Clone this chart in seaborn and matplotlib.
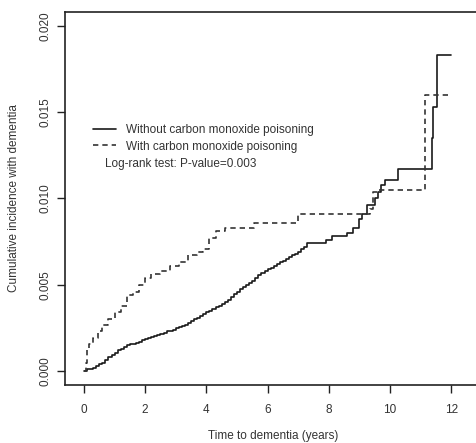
import pandas as pd
import matplotlib
matplotlib.use("Agg")
import matplotlib.pyplot as plt
import seaborn as sns

# Cumulative incidence curves
t_sin = [0, 0.1, 0.2, 0.3, 0.4, 0.5, 0.6, 0.7, 0.8, 0.9, 1.0, 1.1, 1.2, 1.3,
         1.4, 1.5, 1.6, 1.7, 1.8, 1.9, 2.0, 2.1, 2.2, 2.3, 2.4, 2.5, 2.6, 2.7,
         2.8, 2.9, 3.0, 3.1, 3.2, 3.3, 3.4, 3.5, 3.6, 3.7, 3.8, 3.9, 4.0, 4.1,
         4.2, 4.3, 4.4, 4.5, 4.6, 4.7, 4.8, 4.9, 5.0, 5.1, 5.2, 5.3, 5.4, 5.5,
         5.6, 5.7, 5.8, 5.9, 6.0, 6.1, 6.2, 6.3, 6.4, 6.5, 6.6, 6.7, 6.8, 6.9,
         7.0, 7.1, 7.2, 7.3, 7.9, 8.1, 8.6, 8.8, 9.0, 9.1, 9.25, 9.5, 9.6,
         9.7, 9.85, 10.25, 11.37, 11.4, 11.54, 12.0]
ci_sin = [0, 0.0001, 0.00015, 0.0002, 0.0003, 0.0004, 0.0005, 0.00065,
          0.0008, 0.00095, 0.00108, 0.0012, 0.0013, 0.0014, 0.0015, 0.00155,
          0.0016, 0.00165, 0.0017, 0.0018, 0.00185, 0.0019, 0.002, 0.00205,
          0.0021, 0.00215, 0.0022, 0.0023, 0.00235, 0.0024, 0.0025, 0.00255,
          0.0026, 0.0027, 0.0028, 0.0029, 0.003, 0.0031, 0.0032, 0.0033,
          0.0034, 0.0035, 0.0036, 0.0037, 0.0038, 0.0039, 0.004, 0.00415,
          0.0043, 0.00445, 0.0046, 0.00475, 0.0049, 0.005, 0.0051, 0.00525,
          0.0054, 0.00555, 0.0057, 0.0058, 0.0059, 0.006, 0.0061, 0.0062,
          0.0063, 0.0064, 0.0065, 0.0066, 0.0067, 0.0068, 0.0069, 0.00705,
          0.0072, 0.0074, 0.0076, 0.0078, 0.008, 0.0083, 0.0088, 0.0091,
          0.0096, 0.01, 0.0104, 0.0108, 0.0111, 0.0117, 0.0135, 0.0153,
          0.0183, 0.0183]

t_con = [0, 0.05, 0.1, 0.15, 0.3, 0.45, 0.6, 0.8, 1.0, 1.2, 1.4, 1.6, 1.8,
         2.0, 2.2, 2.5, 2.8, 3.1, 3.4, 3.7, 3.9, 4.1, 4.3, 4.6, 5.55, 7.0,
         9.35, 9.45, 9.6, 11.15, 12.0]
ci_con = [0, 0.0005, 0.0012, 0.0016, 0.0019, 0.0023, 0.0027, 0.003, 0.0034,
          0.0038, 0.0044, 0.0046, 0.005, 0.0054, 0.0056, 0.0058, 0.0061,
          0.0063, 0.0067, 0.0069, 0.0071, 0.0077, 0.0081, 0.0083, 0.0086,
          0.0091, 0.0094, 0.0104, 0.0105, 0.016, 0.016]

lbl_sin = "Without carbon monoxide poisoning"
lbl_con = "With carbon monoxide poisoning"

df = pd.concat([
    pd.DataFrame({"tiempo": t_sin, "ci": ci_sin, "grupo": lbl_sin}),
    pd.DataFrame({"tiempo": t_con, "ci": ci_con, "grupo": lbl_con}),
])

sns.set_style("white")
plt.rcParams["font.family"] = ["Liberation Sans", "DejaVu Sans"]
plt.rcParams["text.color"] = "#333333"
plt.rcParams["axes.labelcolor"] = "#333333"
plt.rcParams["xtick.color"] = "#333333"
plt.rcParams["ytick.color"] = "#333333"

fig = plt.figure(figsize=(4.77, 4.43), dpi=100)
ax = fig.add_axes([65 / 477, 58 / 443, 433 / 477, 373 / 443])

sns.lineplot(data=df, x="tiempo", y="ci", hue="grupo", style="grupo",
             palette={lbl_sin: "#1a1a1a", lbl_con: "#333333"},
             dashes={lbl_sin: "", lbl_con: (3.2, 2.4)},
             estimator=None, drawstyle="steps-post", linewidth=1.2, ax=ax)

ax.set_xlim(-0.62, 13.53)
ax.set_ylim(-0.0008, 0.0208)
ax.set_xticks([0, 2, 4, 6, 8, 10, 12])
ax.set_yticks([0.0, 0.005, 0.01, 0.015, 0.02])
ax.set_yticklabels(["0.000", "0.005", "0.010", "0.015", "0.020"],
                   rotation=90, va="center")
ax.tick_params(axis="both", direction="out", length=6, width=1,
               labelsize=8.5, pad=4, color="#222222",
               bottom=True, left=True)
ax.tick_params(axis="x", pad=8)

for s in ax.spines.values():
    s.set_color("#222222")
    s.set_linewidth(1.2)

ax.set_xlabel("Time to dementia (years)", fontsize=8.5)
ax.set_ylabel("Cumulative incidence with dementia", fontsize=8.5)
ax.xaxis.set_label_coords(0.48, -0.12)
ax.yaxis.set_label_coords(-0.105, 0.5)

ax.legend(loc="upper left", bbox_to_anchor=(0.065, 0.70), frameon=False,
          fontsize=8.5, handlelength=1.9, handletextpad=0.85,
          labelspacing=0.4, borderpad=0, borderaxespad=0, title=None)
ax.text(0.092, 0.592, "Log-rank test: P-value=0.003", transform=ax.transAxes,
        fontsize=8.5, va="center", ha="left")

fig.savefig("out.png", dpi=100)
